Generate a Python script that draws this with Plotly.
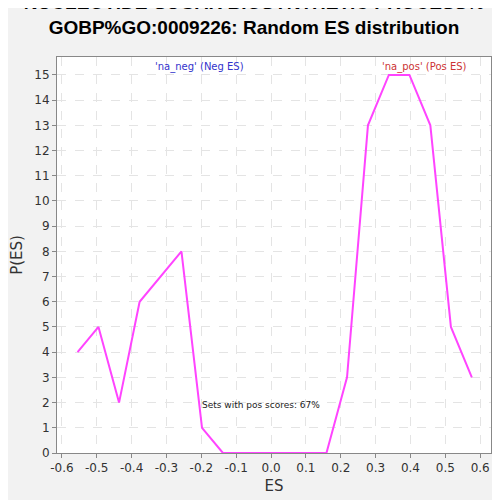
import plotly.graph_objects as go

es = [-0.555, -0.495, -0.436, -0.377, -0.257, -0.198, -0.138, -0.079, -0.019,
      0.040, 0.100, 0.159, 0.218, 0.278, 0.338, 0.397, 0.457, 0.516, 0.576]
p_es = [4, 5, 2, 6, 8, 1, 0, 0, 0, 0, 0, 0, 3, 13, 15, 15, 13, 5, 3]

x_ticks = [-0.6, -0.5, -0.4, -0.3, -0.2, -0.1, 0.0, 0.1, 0.2, 0.3, 0.4, 0.5, 0.6]
y_ticks = list(range(0, 16))

fig = go.Figure()
fig.add_trace(go.Scatter(x=es, y=p_es, mode='lines',
                         line=dict(color='#ff44ff', width=2), hoverinfo='skip'))

fig.add_annotation(x=0.0, y=15.3, xref='x', yref='y', text="'na_neg' (Neg ES)",
                   showarrow=False, font=dict(size=10, color='#3333cc'), xanchor='center',
                   xshift=-72)
fig.add_annotation(x=0.0, y=15.3, xref='x', yref='y', text="'na_pos' (Pos ES)",
                   showarrow=False, font=dict(size=10, color='#cc3333'), xanchor='center',
                   xshift=153)
fig.add_annotation(x=0.0, y=1.9, xref='x', yref='y', text='Sets with pos scores: 67%',
                   showarrow=False, font=dict(size=9, color='#222222'), xanchor='center',
                   xshift=-10)

fig.update_layout(
    width=492, height=492,
    paper_bgcolor='#f2f2f2', plot_bgcolor='white',
    margin=dict(l=44, r=8, t=49, b=46),
    showlegend=False,
    font=dict(family='DejaVu Sans', color='#333333'),
    title=dict(text='NUCLEOTIDE-SUGAR BIOSYNTHETIC PROCESS%<br>GOBP%GO:0009226: Random ES distribution',
               x=0.5, y=0.998, yanchor='top',
               font=dict(size=19, color='black', family='Liberation Sans', weight='bold')),
    xaxis=dict(range=[-0.614, 0.631], tickvals=x_ticks,
               ticktext=[f'{v:.1f}' for v in x_ticks],
               showgrid=True, gridcolor='#e4e4e4', griddash='dash', zeroline=False,
               showline=True, linecolor='#888888', mirror=True, ticks='outside',
               ticklen=4, tickcolor='#888888', tickfont=dict(size=12),
               title=dict(text='ES', font=dict(size=15), standoff=6)),
    yaxis=dict(range=[0, 15.71], tickvals=y_ticks,
               showgrid=True, gridcolor='#e4e4e4', griddash='dash', zeroline=False,
               showline=True, linecolor='#888888', mirror=True, ticks='outside',
               ticklen=4, tickcolor='#888888', tickfont=dict(size=12),
               title=dict(text='P(ES)', font=dict(size=15), standoff=8)),
)

fig.write_html('out.html')
